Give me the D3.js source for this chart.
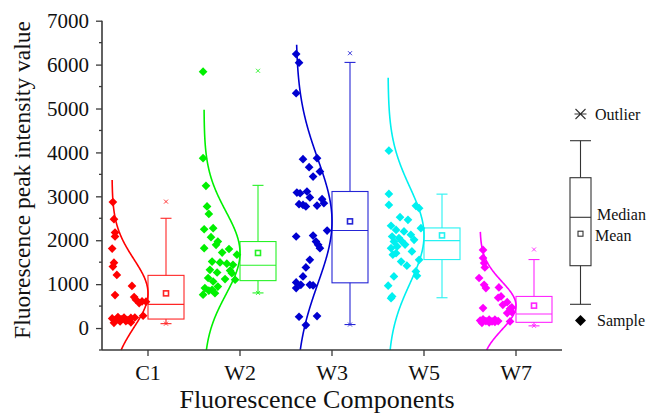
<!DOCTYPE html>
<html><head><meta charset="utf-8">
<script src="https://cdn.jsdelivr.net/npm/d3@7"></script>
<style>
html,body{margin:0;padding:0;background:#fff;}
svg{display:block;font-family:"Liberation Serif","Times New Roman",serif;}
</style></head>
<body><svg id="chart" width="648" height="415"></svg>
<script>
// ---------- data ----------
const categories = ["C1", "W2", "W3", "W5", "W7"];
const yTicks = [0, 1000, 2000, 3000, 4000, 5000, 6000, 7000];

const valuesC1 = [2870,2480,2175,2085,1810,1490,1400,1210,960,750,705,645,605,600,570,280,220,180,250,200,240,180,230,120,150,160,130,240];
const jitterC1 = [0.08,0.11,0.14,0.14,0.06,0.11,0.08,0.19,0.61,0.14,0.67,0.72,0.89,1.0,0.81,0.92,0.06,0.14,0.22,0.31,0.39,0.5,0.58,0.11,0.28,0.44,0.58,0.69];
const valuesW2 = [5840,3870,3240,2770,2600,2250,2275,2070,1970,1895,1820,1800,1720,1515,1495,1465,1440,1670,1325,1265,1310,1140,1115,1100,1060,910,870,945,760,795,850,1250];
const jitterW2 = [0.03,0.03,0.11,0.14,0.19,0.06,0.31,0.25,0.44,0.39,0.06,0.75,0.56,0.28,0.5,0.69,0.86,0.97,0.22,0.42,0.78,0.17,0.64,0.92,0.31,0.08,0.28,0.44,0.03,0.36,0.19,0.83];
const valuesW3 = [6240,6045,5350,3845,3870,3665,3565,3450,3085,3110,3070,2975,2935,2845,2790,2820,2805,2770,2220,2085,2105,1970,1895,1820,1555,1380,1175,1040,985,910,985,970,257,273,68];
const jitterW3 = [0.06,0.14,0.06,0.25,0.64,0.42,0.72,0.53,0.08,0.36,0.17,0.44,0.78,0.83,0.64,0.14,0.25,0.33,0.92,0.06,0.53,0.61,0.67,0.72,0.44,0.33,0.25,0.06,0.19,0.06,0.44,0.53,0.14,0.64,0.33];
const valuesW5 = [4040,3055,2805,2785,2730,2525,2465,2330,2275,2235,2200,2125,2085,2050,2010,1970,1975,1860,1900,1820,1705,1745,1670,1555,1515,1420,1290,1190,1175,965,720,680];
const jitterW5 = [0.08,0.08,0.08,0.83,0.92,0.39,0.61,0.14,0.97,0.28,0.5,0.69,0.17,0.36,0.78,0.22,0.44,0.31,0.53,0.14,0.28,0.72,0.19,0.92,0.42,0.58,0.83,0.86,0.22,0.06,0.17,0.14];
const valuesW7 = [1780,1595,1480,1380,1140,985,910,925,720,690,590,530,470,440,455,340,360,150,170,200,160,190,150,190,160,120,130,140];
const jitterW7 = [0.14,0.14,0.17,0.19,0.03,0.17,0.22,0.58,0.64,0.56,0.81,0.69,0.94,0.89,0.14,0.81,0.94,0.89,0.06,0.14,0.22,0.31,0.39,0.47,0.56,0.11,0.31,0.47];

// box statistics
const whiskerLow  = [100, 800, 80, 690, 50];
const quartile1   = [205, 1080, 1030, 1560, 130];
const medians     = [540, 1430, 2220, 1990, 320];
const quartile3   = [1200, 1970, 3110, 2280, 720];
const whiskerHigh = [2500, 3250, 6050, 3050, 1560];
const means       = [790, 1710, 2430, 2110, 510];
const outliers    = [2880, 5860, 6260, null, 1790];
const minMarks    = [100, 800, 80, null, 50];
// normal distribution curves
const curveSD  = [780, 950, 1420, 1100, 550];
const curveTop = [3370, 4970, 6450, 5700, 2190];

const colors = ["#ff0000", "#00f000", "#0000d0", "#00f0f0", "#ff00ff"];

const groups = [
  {v: valuesC1, j: jitterC1}, {v: valuesW2, j: jitterW2}, {v: valuesW3, j: jitterW3},
  {v: valuesW5, j: jitterW5}, {v: valuesW7, j: jitterW7}
];

// ---------- layout ----------
const svg = d3.select("#chart");
const axisColor = "#3a3a3a";
const x = d3.scaleBand().domain(categories).range([102, 562]).padding(0);
const y = d3.scaleLinear().domain([-500, 7000]).range([350, 20.7]);
const bw = x.bandwidth();
const cx = c => x(c) + bw / 2;
const jit = d3.scaleLinear().domain([0, 1]).range([-38, -2]); // offset from group centre
const curveBase = -36, curveAmp = 36;
const boxL = 0, boxR = 36, capHalf = 5.5;

// diamond symbol (rotated square)
const diamond = d3.symbol().type(d3.symbolSquare).size(38);

// ---------- groups ----------
categories.forEach((cat, i) => {
  const c = cx(cat), col = colors[i];
  const g = svg.append("g");

  // scatter points
  const pts = groups[i].v.map((v, k) => ({v, j: groups[i].j[k]}));
  g.selectAll("path.pt").data(pts).enter().append("path")
    .attr("class", "pt")
    .attr("d", diamond)
    .attr("fill", col)
    .attr("transform", d => `translate(${c + jit(d.j)},${y(d.v)}) rotate(45)`);

  // normal curve
  const vals = d3.range(-500, curveTop[i] + 1, 25);
  if (vals[vals.length - 1] !== curveTop[i]) vals.push(curveTop[i]);
  const line = d3.line()
    .x(v => c + curveBase + curveAmp * Math.exp(-0.5 * Math.pow((v - means[i]) / curveSD[i], 2)))
    .y(v => y(v))
    .curve(d3.curveMonotoneY);
  g.append("path").attr("d", line(vals)).attr("fill", "none")
    .attr("stroke", col).attr("stroke-width", 1.6);

  // box
  const wx = c + (boxL + boxR) / 2;
  const bs = g.append("g").attr("stroke", col).attr("stroke-width", 1.1).attr("fill", "none").attr("opacity", 0.85);
  bs.append("line").attr("x1", wx).attr("x2", wx).attr("y1", y(quartile3[i])).attr("y2", y(whiskerHigh[i]));
  bs.append("line").attr("x1", wx).attr("x2", wx).attr("y1", y(quartile1[i])).attr("y2", y(whiskerLow[i]));
  bs.append("line").attr("x1", wx - capHalf).attr("x2", wx + capHalf).attr("y1", y(whiskerHigh[i])).attr("y2", y(whiskerHigh[i]));
  bs.append("line").attr("x1", wx - capHalf).attr("x2", wx + capHalf).attr("y1", y(whiskerLow[i])).attr("y2", y(whiskerLow[i]));
  bs.append("rect").attr("x", c + boxL).attr("width", boxR - boxL)
    .attr("y", y(quartile3[i])).attr("height", y(quartile1[i]) - y(quartile3[i]));
  bs.append("line").attr("x1", c + boxL).attr("x2", c + boxR).attr("y1", y(medians[i])).attr("y2", y(medians[i]));
  // mean square
  bs.append("rect").attr("x", wx - 2.5).attr("y", y(means[i]) - 2.5).attr("width", 5).attr("height", 5)
    .attr("stroke-width", 1.6).attr("fill", "#fff");
  // outlier and min markers (x)
  [outliers[i], minMarks[i]].forEach(m => {
    if (m == null) return;
    const yy = y(m), s = 2;
    bs.append("path").attr("d", `M${wx - s},${yy - s}L${wx + s},${yy + s}M${wx - s},${yy + s}L${wx + s},${yy - s}`)
      .attr("stroke-width", 0.9);
  });
});

// ---------- axes ----------
const fontTick = 21;
const yAxis = d3.axisLeft(y).tickValues(yTicks).tickSize(6).tickPadding(7).tickFormat(d3.format("d"));
const gy = svg.append("g").attr("transform", `translate(${x.range()[0]},0)`).call(yAxis);
gy.select(".domain").remove();
gy.selectAll(".tick line").attr("stroke", axisColor).attr("stroke-width", 1.3);
gy.selectAll(".tick text").attr("font-size", fontTick).attr("fill", "#111")
  .attr("font-family", '"Liberation Serif","Times New Roman",serif');
// minor ticks
const minor = d3.range(-500, 7001, 1000);
svg.append("g").selectAll("line").data(minor).enter().append("line")
  .attr("x1", x.range()[0] - 3).attr("x2", x.range()[0])
  .attr("y1", d => y(d)).attr("y2", d => y(d))
  .attr("stroke", axisColor).attr("stroke-width", 1.3);
svg.append("line").attr("x1", x.range()[0]).attr("x2", x.range()[0])
  .attr("y1", y(-500)).attr("y2", y(7000)).attr("stroke", axisColor).attr("stroke-width", 1.6);

const xAxis = d3.axisBottom(x).tickSize(6).tickPadding(8);
const gx = svg.append("g").attr("transform", `translate(0,${y(-500)})`).call(xAxis);
gx.select(".domain").remove();
gx.selectAll(".tick line").attr("stroke", axisColor).attr("stroke-width", 1.3);
gx.selectAll(".tick text").attr("font-size", 22).attr("fill", "#111")
  .attr("font-family", '"Liberation Serif","Times New Roman",serif');
svg.append("line").attr("x1", x.range()[0]).attr("x2", x.range()[1])
  .attr("y1", y(-500)).attr("y2", y(-500)).attr("stroke", axisColor).attr("stroke-width", 1.6);

// titles
svg.append("text").attr("transform", "translate(30,180) rotate(-90)")
  .attr("text-anchor", "middle").attr("font-size", 23.5).attr("fill", "#111")
  .text("Fluorescence peak intensity value");
svg.append("text").attr("x", 317).attr("y", 408)
  .attr("text-anchor", "middle").attr("font-size", 26).attr("fill", "#111")
  .text("Fluorescence Components");

// ---------- legend ----------
const lg = svg.append("g").attr("stroke", "#333").attr("fill", "none").attr("stroke-width", 1.1);
const lx = 580.5;
lg.append("path").attr("d", `M${lx - 5},${109}L${lx + 5},${119}M${lx - 5},${119}L${lx + 5},${109}M${lx - 6},${114}L${lx + 6},${114}`);
lg.append("line").attr("x1", 570).attr("x2", 591).attr("y1", 140.7).attr("y2", 140.7);
lg.append("line").attr("x1", lx).attr("x2", lx).attr("y1", 140.7).attr("y2", 177.7);
lg.append("rect").attr("x", 570).attr("y", 177.7).attr("width", 21).attr("height", 88);
lg.append("line").attr("x1", 570).attr("x2", 591).attr("y1", 217.3).attr("y2", 217.3);
lg.append("rect").attr("x", lx - 2.5).attr("y", 231.2).attr("width", 5).attr("height", 5);
lg.append("line").attr("x1", lx).attr("x2", lx).attr("y1", 265.7).attr("y2", 304.3);
lg.append("line").attr("x1", 570).attr("x2", 591).attr("y1", 304.3).attr("y2", 304.3);
svg.append("path").attr("d", d3.symbol().type(d3.symbolSquare).size(60))
  .attr("transform", "translate(580.5,320.5) rotate(45)").attr("fill", "#000");
const lt = [["Outlier", 595, 119.5], ["Median", 597, 220], ["Mean", 595, 241], ["Sample", 597, 325.5]];
svg.append("g").selectAll("text").data(lt).enter().append("text")
  .attr("x", d => d[1]).attr("y", d => d[2]).attr("font-size", 16).attr("fill", "#111")
  .text(d => d[0]);
</script>
</body></html>
